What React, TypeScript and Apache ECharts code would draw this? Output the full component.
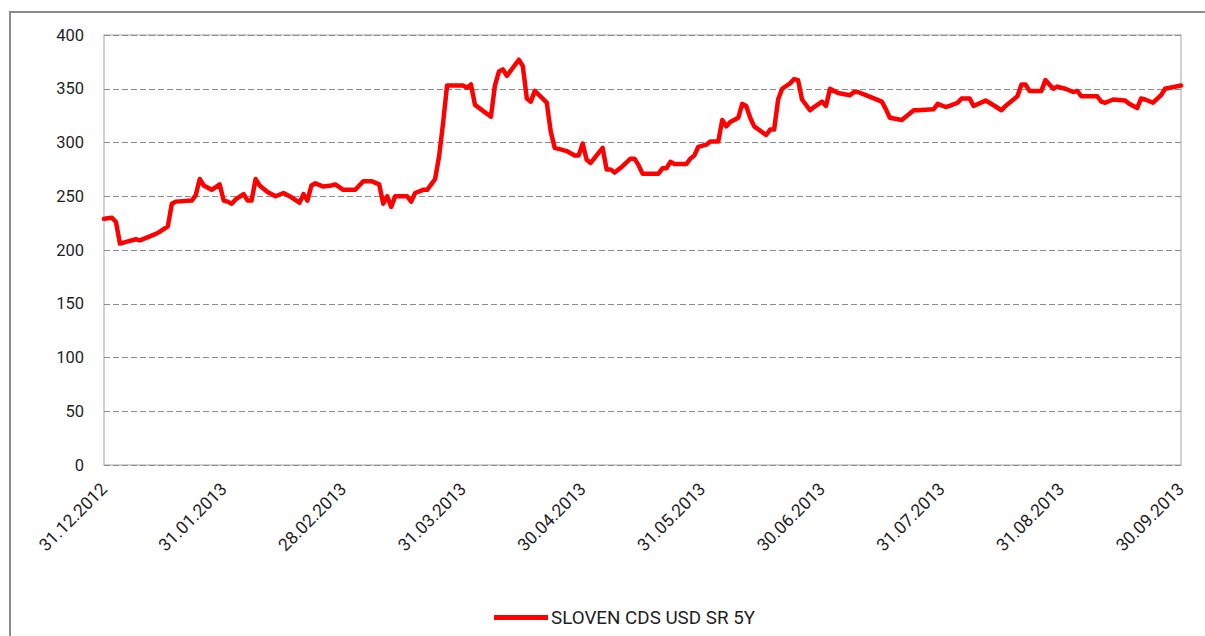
import React, { useEffect, useRef } from "react";
import * as echarts from "echarts";

// Trading-day index (30 per month label) and CDS spread (bp)
const dayIndex = [
  0, 2, 3, 4, 6, 8, 9, 11, 13, 14, 16, 17, 18, 22, 23, 24, 25, 27, 29, 30,
  31, 32, 33, 35, 36, 37, 38, 39, 41, 43, 45, 47, 49, 50, 51, 52, 53, 55, 57, 58,
  60, 63, 65, 67, 69, 70, 71, 72, 73, 76, 77, 78, 80, 81, 83, 84, 85, 86, 90, 91,
  92, 93, 97, 98, 99, 100, 101, 104, 105, 106, 107, 108, 111, 112, 113, 114, 116, 118, 119, 120,
  121, 122, 125, 126, 127, 128, 130, 132, 133, 134, 135, 139, 140, 141, 142, 143, 146, 147, 148, 149,
  151, 152, 154, 155, 156, 157, 159, 160, 161, 162, 163, 166, 167, 168, 169, 170, 172, 173, 174, 175,
  177, 178, 180, 181, 182, 184, 187, 188, 189, 191, 193, 195, 196, 197, 200, 203, 204, 208, 209, 211,
  212, 214, 215, 217, 218, 221, 222, 225, 226, 229, 230, 231, 232, 235, 236, 238, 239, 241, 243, 244,
  245, 247, 249, 250, 251, 253, 256, 257, 259, 260, 261, 263, 265, 266, 270,
];
const cdsValues = [
  229, 230, 226, 206, 208, 210, 209, 212, 215, 217, 222, 243, 245, 246, 251, 266, 260, 256, 261, 246,
  245, 243, 247, 252, 246, 246, 266, 260, 254, 250, 253, 249, 244, 252, 246, 260, 262, 259, 260, 261,
  256, 256, 264, 264, 261, 243, 250, 240, 250, 250, 245, 253, 256, 256, 266, 287, 318, 353, 353, 351,
  354, 335, 324, 353, 366, 368, 362, 377, 371, 341, 338, 348, 337, 310, 295, 294, 292, 288, 288, 299,
  284, 281, 295, 275, 275, 272, 278, 285, 285, 279, 271, 271, 276, 276, 282, 280, 280, 285, 288, 296,
  298, 301, 301, 321, 315, 319, 323, 336, 334, 323, 315, 307, 312, 312, 340, 350, 355, 359, 358, 340,
  330, 333, 338, 334, 350, 346, 344, 347, 347, 344, 341, 338, 331, 323, 321, 330, 330, 331, 336, 333,
  334, 337, 341, 341, 334, 339, 337, 330, 334, 343, 354, 354, 348, 348, 358, 350, 352, 350, 347, 348,
  343, 343, 343, 338, 337, 340, 339, 336, 332, 341, 340, 337, 344, 350, 353,
];
const tickLabels = [
  "31.12.2012", "31.01.2013", "28.02.2013", "31.03.2013", "30.04.2013",
  "31.05.2013", "30.06.2013", "31.07.2013", "31.08.2013", "30.09.2013",
];
const seriesName = "SLOVEN CDS USD SR 5Y";
const FONT = "Roboto, 'Noto Sans', sans-serif";

export default function App() {
  const ref = useRef<HTMLDivElement>(null);
  useEffect(() => {
    if (!ref.current) return;
    const chart = echarts.init(ref.current, undefined, { renderer: "svg" });
    const data = dayIndex.map((d, i) => [d, cdsValues[i]]);
    chart.setOption({
      animation: false,
      backgroundColor: "#ffffff",
      textStyle: { fontFamily: FONT },
      grid: {
        left: 104, right: 24, top: 35, bottom: 171,
        show: true, borderColor: "#c4c4c4", borderWidth: 1.5,
      },
      graphic: [
        {
          type: "rect",
          shape: { x: 10, y: 12, width: 1400, height: 800 },
          style: { fill: "none", stroke: "#8c8c8c", lineWidth: 2 },
          silent: true,
        },
      ],
      xAxis: {
        type: "value",
        min: 0, max: 270, interval: 30,
        axisLine: { show: false },
        axisTick: { show: false },
        splitLine: { show: false },
        axisLabel: {
          rotate: 45, margin: 21, fontSize: 17.5, color: "#1f1f1f", fontFamily: FONT,
          formatter: (v: number) => tickLabels[Math.round(v / 30)] ?? "",
        },
      },
      yAxis: {
        type: "value",
        min: 0, max: 400, interval: 50,
        axisLine: { show: false },
        axisTick: { show: false },
        axisLabel: { margin: 20, fontSize: 16.5, color: "#1f1f1f", fontFamily: FONT },
        splitLine: { lineStyle: { color: "#8c8c8c", type: [6, 3], width: 1.2 } },
      },
      legend: {
        left: 489, top: 603,
        itemWidth: 54, itemHeight: 5, itemGap: 10,
        textStyle: { fontSize: 18.8, color: "#1f1f1f", fontFamily: FONT, padding: [0, 0, 0, -2] },
        data: [{ name: seriesName, icon: "rect", itemStyle: { color: "#ff0000" } }],
      },
      series: [
        {
          name: seriesName,
          type: "line",
          data,
          symbol: "none",
          lineStyle: { color: "#ff0000", width: 4.5, join: "round", cap: "round" },
          itemStyle: { color: "#ff0000" },
        },
      ],
    });
    return () => chart.dispose();
  }, []);
  return (
    <div
      ref={ref}
      style={{ position: "fixed", left: 0, top: 0, width: 1205, height: 636, background: "#fff" }}
    />
  );
}
